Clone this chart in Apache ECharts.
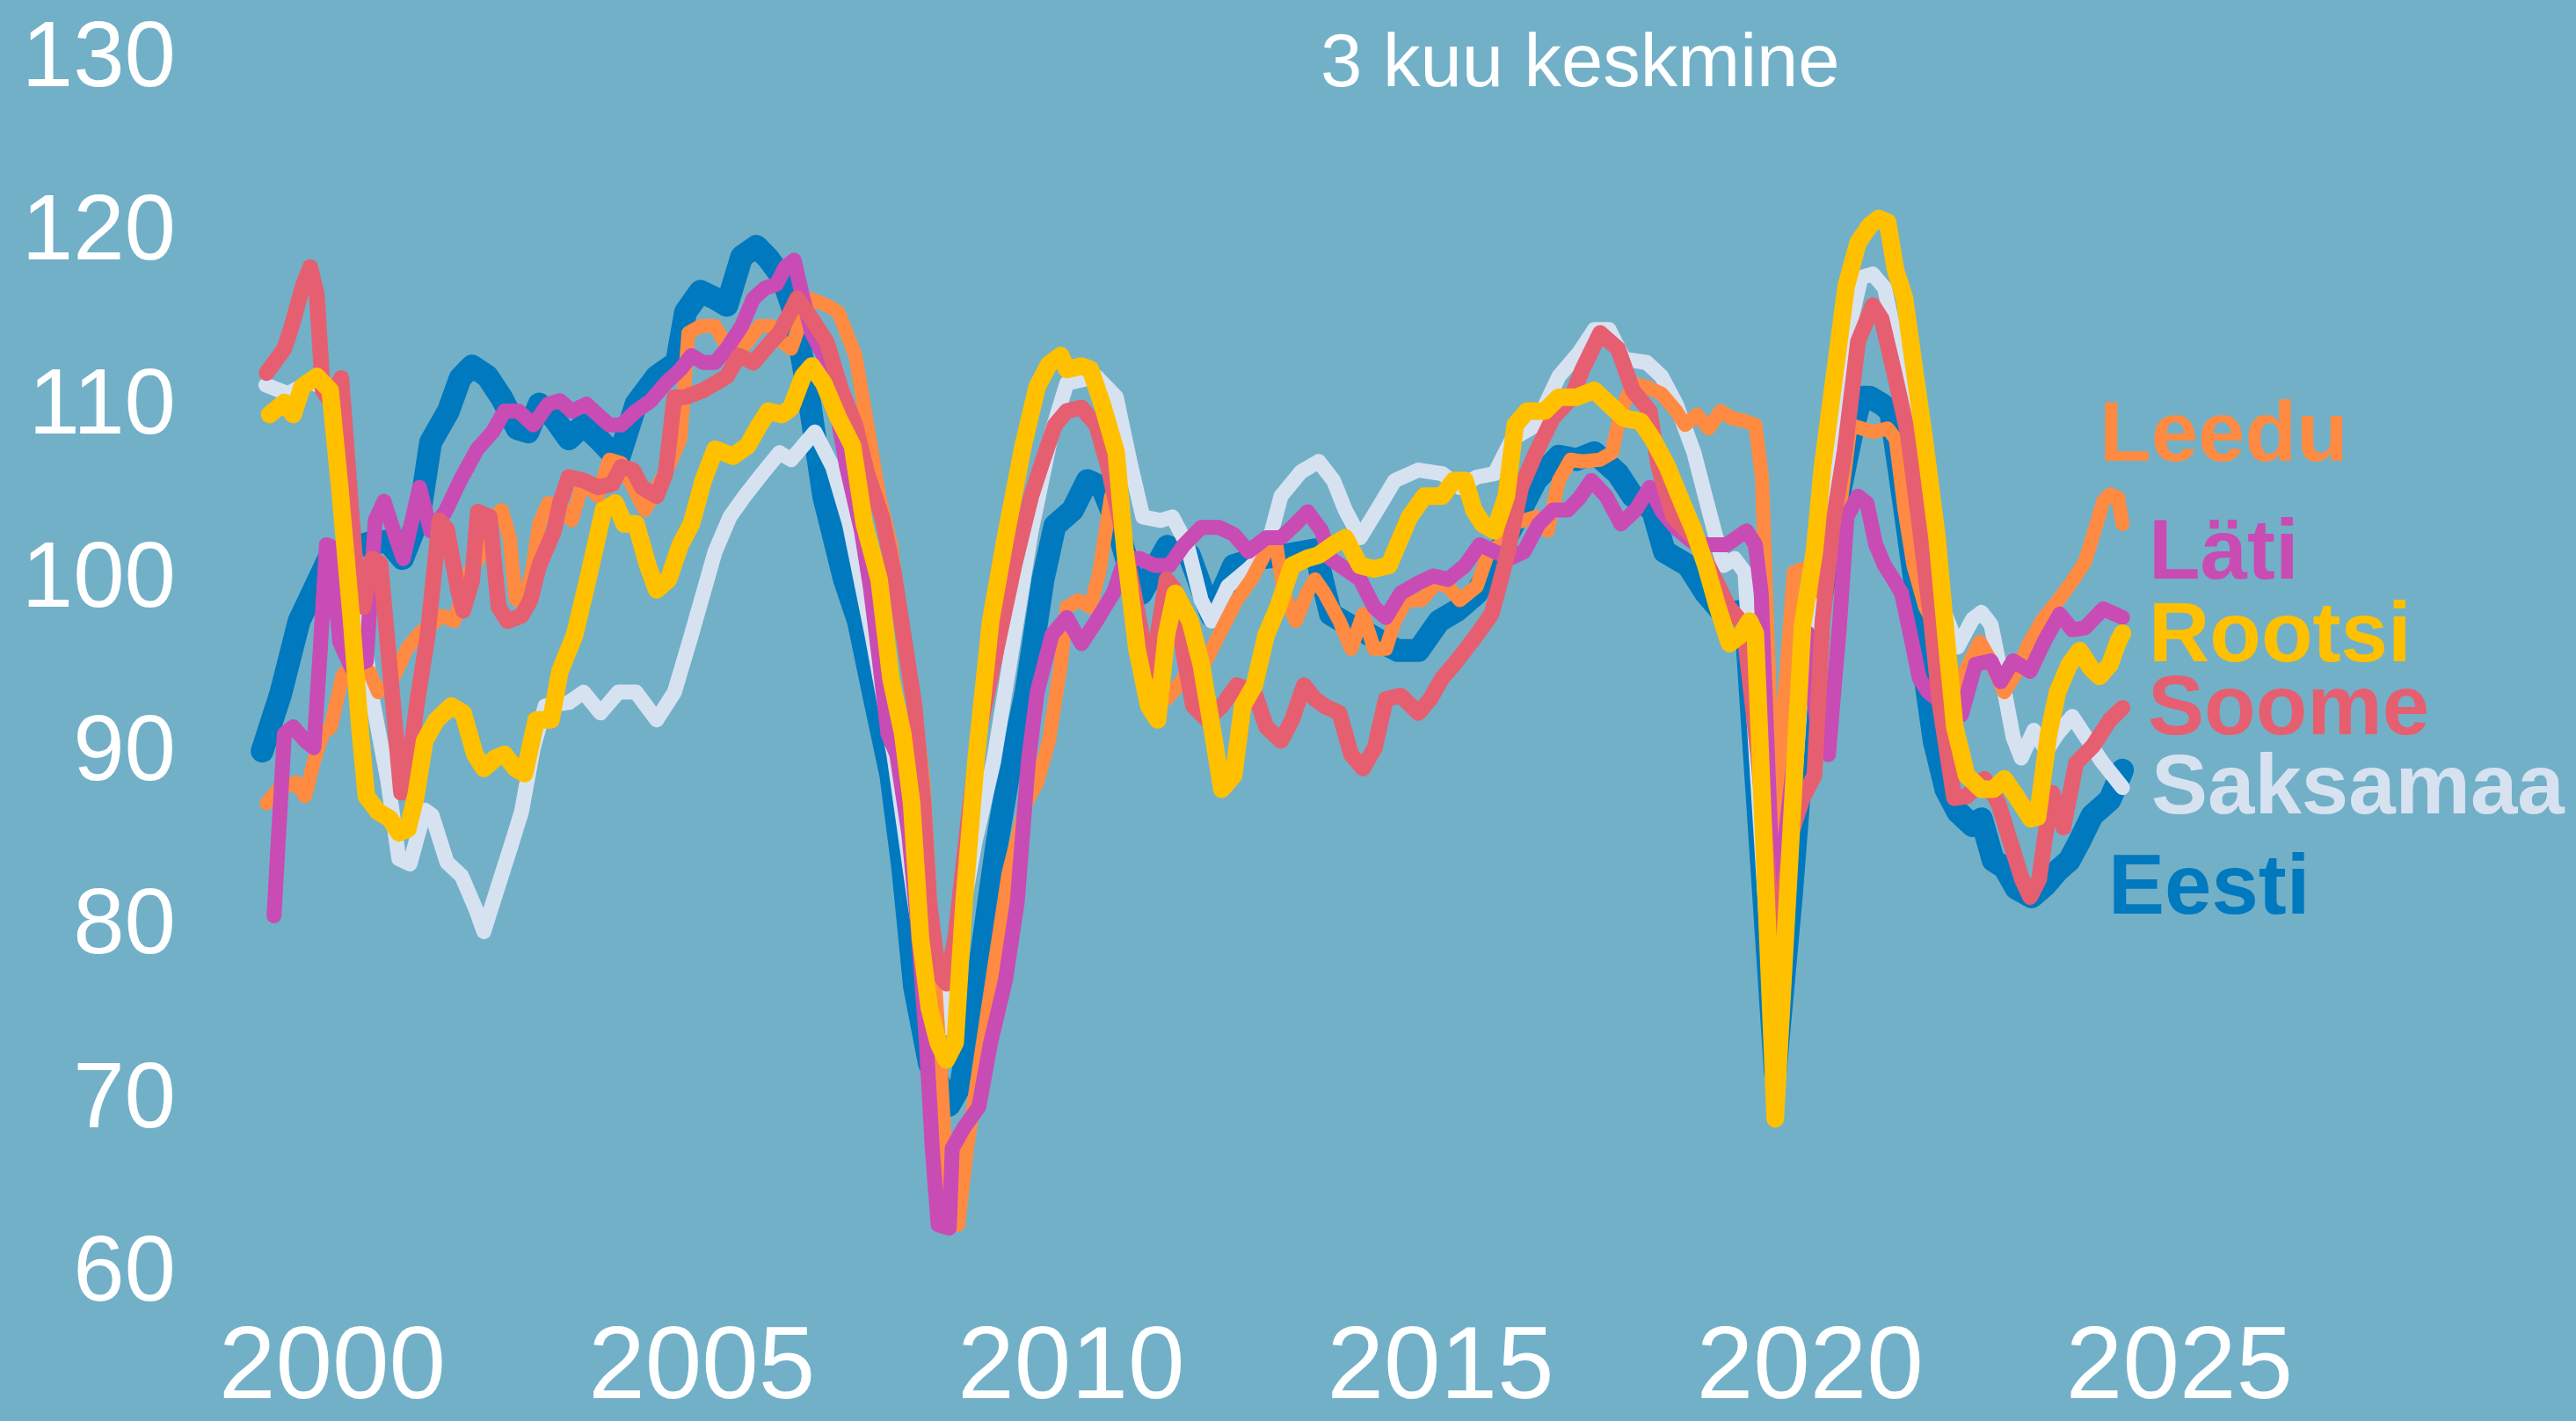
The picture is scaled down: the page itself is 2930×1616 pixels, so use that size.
<!DOCTYPE html>
<html>
<head>
<meta charset="utf-8">
<title>3 kuu keskmine</title>
<script src="https://cdn.jsdelivr.net/npm/echarts@6/dist/echarts.min.js"></script>
<style>
    html, body { margin: 0; padding: 0; background: #72b0c8; }
    #chart { width: 2930px; height: 1616px; }
</style>
</head>
<body>
<div id="chart"></div>
<script>
    // x = aasta (nagu teljel), y = indeks
    const yearTicks = [2000, 2005, 2010, 2015, 2020, 2025];

    const eesti = [
        [1999.05, 90.2], [1999.3, 93.5], [1999.55, 97.7], [1999.75, 99.5], [1999.95, 101.3], [2000.2, 101.8],
        [2000.5, 102.2], [2000.75, 102.3], [2000.95, 101.3], [2001.18, 103.8], [2001.33, 108.0], [2001.57, 109.8],
        [2001.73, 111.7], [2001.89, 112.4], [2002.1, 111.8], [2002.3, 110.5], [2002.5, 108.8], [2002.65, 108.6],
        [2002.8, 110.2], [2003.0, 109.4], [2003.2, 108.2], [2003.4, 109.0], [2003.6, 108.2], [2003.87, 107.0],
        [2004.11, 110.2], [2004.39, 111.8], [2004.66, 112.6], [2004.78, 115.5], [2004.98, 116.7], [2005.18, 116.3],
        [2005.34, 115.9], [2005.54, 118.7], [2005.74, 119.3], [2005.9, 118.6], [2006.09, 117.5], [2006.25, 115.5],
        [2006.45, 110.6], [2006.65, 104.9], [2006.93, 100.1], [2007.12, 97.7], [2007.32, 93.6], [2007.56, 88.8],
        [2007.72, 83.5], [2007.88, 76.6], [2008.08, 72.2], [2008.35, 69.8], [2008.51, 71.0], [2008.75, 77.4],
        [2008.99, 84.7], [2009.15, 88.8], [2009.39, 93.6], [2009.62, 100.1], [2009.78, 103.2], [2010.02, 104.1],
        [2010.22, 105.8], [2010.42, 105.4], [2010.6, 103.5], [2010.8, 100.5], [2010.95, 99.3], [2011.3, 102.0],
        [2011.6, 101.5], [2011.9, 98.0], [2012.2, 100.9], [2012.5, 101.3], [2012.9, 101.5], [2013.3, 101.8],
        [2013.51, 98.1], [2013.75, 97.5], [2014.0, 97.0], [2014.2, 96.5], [2014.42, 96.0], [2014.7, 96.0],
        [2014.98, 97.7], [2015.22, 98.3], [2015.49, 99.3], [2015.89, 102.5], [2016.29, 105.8], [2016.6, 107.2],
        [2016.84, 107.0], [2017.08, 107.4], [2017.4, 106.2], [2017.6, 104.9], [2017.87, 104.1], [2018.03, 101.7],
        [2018.35, 100.9], [2018.59, 99.3], [2018.83, 98.1], [2019.12, 98.3], [2019.53, 71.7], [2019.75, 82.0],
        [2019.95, 93.0], [2020.1, 97.7], [2020.35, 104.0], [2020.57, 108.6], [2020.69, 110.6], [2020.81, 110.6],
        [2020.97, 110.2], [2021.09, 109.8], [2021.2, 106.6], [2021.32, 103.0], [2021.44, 99.3], [2021.56, 94.4],
        [2021.68, 90.8], [2021.84, 88.0], [2022.0, 86.7], [2022.2, 85.9], [2022.32, 86.3], [2022.48, 83.9],
        [2022.63, 83.5], [2022.79, 82.3], [2023.0, 81.8], [2023.19, 82.5], [2023.35, 83.3], [2023.51, 83.9],
        [2023.66, 85.1], [2023.82, 86.5], [2024.06, 87.4], [2024.23, 89.1]
    ];

    const saksamaa = [
        [1999.1, 111.3], [1999.4, 110.8], [1999.7, 111.5], [1999.95, 111.0], [2000.15, 106.0], [2000.35, 99.0],
        [2000.55, 93.0], [2000.75, 88.5], [2000.9, 84.0], [2001.05, 83.7], [2001.25, 86.8], [2001.35, 86.5],
        [2001.55, 83.8], [2001.75, 83.0], [2001.95, 81.0], [2002.05, 79.8], [2002.25, 82.5], [2002.4, 84.5],
        [2002.56, 86.7], [2002.72, 90.4], [2002.88, 92.8], [2003.2, 93.0], [2003.4, 93.6], [2003.63, 92.4],
        [2003.87, 93.6], [2004.11, 93.6], [2004.39, 92.0], [2004.63, 93.6], [2004.86, 96.9], [2005.18, 101.7],
        [2005.38, 103.7], [2005.58, 104.9], [2005.82, 106.2], [2006.05, 107.4], [2006.21, 107.0], [2006.53, 108.6],
        [2006.77, 106.6], [2007.0, 103.3], [2007.3, 97.0], [2007.6, 90.0], [2007.9, 81.0], [2008.1, 76.0],
        [2008.26, 74.2], [2008.45, 79.0], [2008.7, 85.0], [2008.95, 89.6], [2009.23, 96.9], [2009.46, 102.9],
        [2009.74, 108.6], [2009.94, 111.4], [2010.34, 111.8], [2010.61, 110.6], [2010.81, 106.6], [2010.97, 103.7],
        [2011.21, 103.5], [2011.37, 103.7], [2011.57, 102.1], [2011.76, 98.9], [2011.9, 97.7], [2012.12, 99.7],
        [2012.4, 100.7], [2012.64, 101.7], [2012.84, 104.9], [2013.11, 106.3], [2013.35, 106.9], [2013.55, 105.8],
        [2013.71, 104.1], [2013.91, 102.5], [2014.14, 104.1], [2014.38, 105.8], [2014.7, 106.4], [2015.02, 106.2],
        [2015.26, 105.4], [2015.49, 106.0], [2015.73, 106.2], [2015.97, 108.2], [2016.29, 109.0], [2016.6, 111.8],
        [2016.88, 113.2], [2017.08, 114.5], [2017.28, 114.5], [2017.48, 112.8], [2017.79, 112.6], [2017.99, 111.8],
        [2018.19, 110.2], [2018.43, 107.4], [2018.63, 104.1], [2018.83, 100.9], [2018.98, 101.3], [2019.12, 100.5],
        [2019.53, 72.0], [2019.9, 95.0], [2020.1, 98.0], [2020.3, 106.0], [2020.5, 114.0], [2020.69, 117.5],
        [2020.85, 117.7], [2021.01, 116.9], [2021.2, 113.0], [2021.36, 109.8], [2021.55, 104.0], [2021.75, 99.0],
        [2022.0, 96.2], [2022.2, 97.8], [2022.32, 98.2], [2022.45, 97.5], [2022.59, 94.6], [2022.75, 91.0],
        [2022.86, 89.8], [2023.03, 91.4], [2023.2, 90.2], [2023.35, 91.2], [2023.55, 92.2], [2023.72, 91.1],
        [2023.95, 89.6], [2024.23, 88.1]
    ];

    const soome = [
        [1999.11, 112.0], [1999.35, 113.4], [1999.45, 114.7], [1999.6, 117.0], [1999.7, 118.1], [1999.79, 116.5],
        [1999.87, 111.0], [1999.95, 110.5], [2000.12, 111.7], [2000.3, 101.6], [2000.42, 98.5], [2000.54, 101.3],
        [2000.65, 101.0], [2000.82, 93.0], [2000.93, 87.8], [2001.0, 88.0], [2001.14, 92.8], [2001.29, 96.9],
        [2001.45, 103.5], [2001.55, 103.0], [2001.7, 99.5], [2001.77, 98.3], [2001.89, 100.0], [2001.97, 104.0],
        [2002.13, 103.7], [2002.25, 98.5], [2002.37, 97.7], [2002.56, 98.0], [2002.68, 98.9], [2002.8, 100.9],
        [2003.0, 102.9], [2003.08, 104.5], [2003.2, 106.0], [2003.4, 105.8], [2003.6, 105.4], [2003.79, 105.6],
        [2003.91, 106.6], [2004.07, 106.4], [2004.19, 105.4], [2004.39, 104.9], [2004.51, 106.2], [2004.63, 110.6],
        [2004.78, 110.6], [2005.02, 111.0], [2005.18, 111.4], [2005.34, 111.8], [2005.5, 113.0], [2005.7, 112.6],
        [2005.9, 113.6], [2006.05, 114.3], [2006.2, 115.5], [2006.29, 116.3], [2006.49, 115.1], [2006.69, 113.8],
        [2006.89, 111.0], [2007.08, 109.0], [2007.24, 106.2], [2007.44, 103.7], [2007.6, 100.5], [2007.76, 96.1],
        [2007.88, 92.8], [2008.0, 87.2], [2008.08, 81.5], [2008.2, 77.4], [2008.31, 76.8], [2008.43, 79.4],
        [2008.59, 85.5], [2008.75, 91.2], [2008.99, 96.1], [2009.23, 100.9], [2009.46, 104.9], [2009.62, 107.0],
        [2009.78, 109.0], [2009.94, 109.8], [2010.14, 110.0], [2010.34, 109.0], [2010.5, 106.6], [2010.65, 103.7],
        [2010.85, 99.3], [2011.05, 94.8], [2011.17, 96.9], [2011.29, 100.1], [2011.4, 99.5], [2011.53, 95.6],
        [2011.65, 92.8], [2011.84, 92.0], [2012.04, 92.8], [2012.24, 94.0], [2012.48, 93.6], [2012.64, 91.6],
        [2012.84, 90.8], [2012.99, 92.0], [2013.15, 94.0], [2013.3, 93.2], [2013.43, 92.8], [2013.63, 92.4],
        [2013.79, 90.0], [2013.95, 89.2], [2014.11, 90.4], [2014.26, 93.2], [2014.46, 93.4], [2014.7, 92.4],
        [2014.86, 93.2], [2015.02, 94.4], [2015.22, 95.4], [2015.49, 96.9], [2015.69, 98.1], [2015.89, 101.3],
        [2016.09, 105.4], [2016.29, 107.4], [2016.52, 109.4], [2016.76, 110.5], [2016.92, 112.2], [2017.16, 114.3],
        [2017.4, 113.4], [2017.6, 111.0], [2017.83, 109.8], [2017.95, 106.6], [2018.15, 103.7], [2018.43, 102.5],
        [2018.67, 100.5], [2018.9, 98.5], [2019.1, 97.5], [2019.3, 90.0], [2019.53, 78.0], [2019.75, 85.5],
        [2019.9, 87.5], [2020.06, 88.8], [2020.17, 97.7], [2020.3, 103.0], [2020.47, 107.5], [2020.65, 113.8],
        [2020.85, 115.9], [2020.97, 115.1], [2021.13, 112.2], [2021.32, 108.6], [2021.48, 103.3], [2021.64, 97.7],
        [2021.76, 92.8], [2021.95, 87.5], [2022.12, 87.6], [2022.36, 88.6], [2022.55, 87.2], [2022.71, 85.0],
        [2022.87, 82.8], [2022.98, 81.8], [2023.1, 82.8], [2023.19, 85.5], [2023.28, 87.8], [2023.43, 85.8],
        [2023.6, 89.5], [2023.83, 90.5], [2024.06, 92.0], [2024.23, 92.7]
    ];

    const rootsi = [
        [1999.15, 109.6], [1999.35, 110.3], [1999.47, 109.6], [1999.59, 111.2], [1999.79, 111.8], [1999.97, 111.0],
        [2000.1, 105.4], [2000.26, 97.7], [2000.38, 91.2], [2000.46, 87.6], [2000.62, 86.7], [2000.78, 86.3],
        [2000.9, 85.5], [2001.02, 85.7], [2001.13, 87.6], [2001.25, 90.8], [2001.41, 92.0], [2001.61, 92.8],
        [2001.77, 92.4], [2001.93, 90.0], [2002.05, 89.2], [2002.21, 89.8], [2002.33, 90.0], [2002.48, 89.2],
        [2002.6, 88.9], [2002.76, 92.0], [2002.96, 92.0], [2003.08, 94.8], [2003.28, 96.9], [2003.48, 100.5],
        [2003.67, 104.1], [2003.83, 104.5], [2003.95, 103.3], [2004.11, 103.3], [2004.27, 100.9], [2004.39, 99.5],
        [2004.55, 100.1], [2004.71, 102.1], [2004.86, 103.3], [2005.02, 105.8], [2005.18, 107.6], [2005.42, 107.2],
        [2005.62, 107.8], [2005.78, 109.0], [2005.9, 109.8], [2006.09, 109.6], [2006.21, 110.0], [2006.37, 111.8],
        [2006.49, 112.4], [2006.65, 111.4], [2006.85, 109.4], [2007.04, 107.8], [2007.2, 103.3], [2007.4, 100.1],
        [2007.56, 94.4], [2007.72, 91.2], [2007.84, 87.2], [2007.96, 79.4], [2008.08, 75.4], [2008.2, 73.4],
        [2008.31, 72.4], [2008.43, 73.4], [2008.55, 81.5], [2008.71, 89.6], [2008.91, 97.7], [2009.11, 102.5],
        [2009.35, 107.8], [2009.54, 111.2], [2009.7, 112.5], [2009.86, 113.0], [2009.94, 112.2], [2010.14, 112.4],
        [2010.26, 112.2], [2010.42, 110.2], [2010.61, 107.4], [2010.73, 101.7], [2010.89, 96.1], [2011.05, 92.8],
        [2011.17, 92.0], [2011.29, 96.9], [2011.41, 99.3], [2011.61, 97.7], [2011.76, 95.2], [2011.92, 91.2],
        [2012.04, 88.0], [2012.2, 88.8], [2012.32, 92.8], [2012.48, 94.0], [2012.64, 96.9], [2012.8, 98.5],
        [2012.99, 100.9], [2013.19, 101.3], [2013.35, 101.5], [2013.55, 102.1], [2013.71, 102.5], [2013.91, 100.9],
        [2014.1, 100.7], [2014.3, 100.9], [2014.42, 102.1], [2014.58, 103.7], [2014.78, 104.9], [2015.02, 104.9],
        [2015.18, 105.8], [2015.33, 105.8], [2015.45, 104.1], [2015.57, 103.3], [2015.73, 102.9], [2015.89, 104.9],
        [2016.01, 109.0], [2016.17, 109.8], [2016.41, 109.8], [2016.6, 110.6], [2016.84, 110.6], [2017.08, 111.0],
        [2017.28, 110.2], [2017.48, 109.4], [2017.71, 109.2], [2017.87, 108.2], [2018.07, 106.6], [2018.27, 104.5],
        [2018.43, 102.9], [2018.59, 100.9], [2018.75, 98.5], [2018.91, 96.4], [2019.06, 96.9], [2019.18, 97.7],
        [2019.26, 97.0], [2019.53, 69.0], [2019.9, 97.5], [2020.06, 101.7], [2020.17, 106.6], [2020.33, 111.8],
        [2020.49, 117.0], [2020.65, 119.5], [2020.81, 120.5], [2020.93, 120.9], [2021.05, 120.7], [2021.16, 117.9],
        [2021.28, 116.3], [2021.4, 112.6], [2021.56, 107.8], [2021.72, 102.5], [2021.84, 96.9], [2021.96, 91.6],
        [2022.12, 88.8], [2022.32, 88.0], [2022.48, 88.0], [2022.63, 88.6], [2022.79, 87.6], [2022.99, 86.3],
        [2023.08, 86.4], [2023.23, 91.2], [2023.35, 93.6], [2023.51, 95.2], [2023.65, 96.0], [2023.8, 95.0],
        [2023.92, 94.5], [2024.06, 95.2], [2024.17, 96.5], [2024.23, 97.0]
    ];

    const lati = [
        [1999.21, 80.7], [1999.35, 91.2], [1999.47, 91.6], [1999.63, 90.8], [1999.75, 90.4], [1999.83, 95.6],
        [1999.92, 102.1], [1999.98, 102.0], [2000.1, 96.5], [2000.26, 95.0], [2000.46, 95.4], [2000.58, 103.5],
        [2000.7, 104.6], [2000.86, 102.5], [2000.96, 101.3], [2001.18, 105.4], [2001.33, 102.9], [2001.53, 104.0],
        [2001.73, 105.8], [2001.96, 107.6], [2002.17, 108.6], [2002.33, 109.8], [2002.52, 109.8], [2002.72, 109.0],
        [2002.92, 110.2], [2003.08, 110.4], [2003.24, 109.8], [2003.44, 110.2], [2003.59, 109.6], [2003.75, 109.0],
        [2003.91, 109.0], [2004.11, 109.8], [2004.31, 110.4], [2004.51, 111.4], [2004.71, 112.2], [2004.86, 113.0],
        [2005.02, 112.6], [2005.18, 112.6], [2005.34, 113.4], [2005.54, 114.7], [2005.7, 116.3], [2005.86, 116.9],
        [2006.01, 117.1], [2006.13, 118.1], [2006.25, 118.5], [2006.37, 116.3], [2006.49, 114.3], [2006.65, 113.0],
        [2006.81, 110.2], [2006.96, 106.6], [2007.16, 102.9], [2007.28, 99.7], [2007.4, 95.6], [2007.52, 91.2],
        [2007.64, 90.0], [2007.8, 85.5], [2007.92, 80.3], [2008.04, 73.4], [2008.12, 67.3], [2008.2, 62.9],
        [2008.35, 62.7], [2008.39, 67.3], [2008.55, 68.5], [2008.75, 69.7], [2008.91, 73.4], [2009.11, 77.0],
        [2009.27, 81.5], [2009.42, 89.6], [2009.54, 93.6], [2009.74, 96.9], [2009.94, 97.9], [2010.14, 96.4],
        [2010.34, 97.7], [2010.57, 99.3], [2010.73, 101.3], [2010.93, 101.3], [2011.13, 100.9], [2011.33, 100.9],
        [2011.53, 102.1], [2011.76, 103.1], [2012.0, 103.1], [2012.2, 102.7], [2012.4, 101.7], [2012.64, 102.5],
        [2012.84, 102.5], [2013.04, 103.3], [2013.2, 104.0], [2013.39, 102.9], [2013.51, 101.3], [2013.71, 100.7],
        [2013.91, 100.1], [2014.1, 98.5], [2014.26, 97.9], [2014.46, 99.3], [2014.7, 99.9], [2014.9, 100.3],
        [2015.1, 100.1], [2015.33, 100.9], [2015.53, 102.1], [2015.73, 101.7], [2015.93, 101.3], [2016.13, 101.7],
        [2016.33, 103.3], [2016.52, 104.1], [2016.72, 104.1], [2016.88, 104.8], [2017.04, 105.8], [2017.24, 104.9],
        [2017.44, 103.3], [2017.64, 104.1], [2017.83, 105.4], [2018.0, 104.0], [2018.2, 103.0], [2018.4, 102.3],
        [2018.59, 102.1], [2018.87, 102.1], [2019.14, 102.9], [2019.26, 102.1], [2019.34, 99.3], [2019.52, 79.5],
        [2019.97, 97.0], [2020.13, 90.3], [2020.25, 90.0], [2020.4, 97.5], [2020.5, 103.7], [2020.65, 104.9],
        [2020.77, 104.5], [2020.89, 102.1], [2021.01, 100.9], [2021.13, 100.1], [2021.24, 99.3], [2021.36, 96.9],
        [2021.48, 94.4], [2021.6, 93.6], [2021.84, 92.8], [2022.05, 92.3], [2022.24, 95.2], [2022.45, 95.4],
        [2022.58, 94.2], [2022.75, 95.4], [2022.98, 94.8], [2023.18, 96.6], [2023.38, 98.1], [2023.55, 97.2],
        [2023.72, 97.3], [2023.97, 98.4], [2024.23, 97.9]
    ];

    const leedu = [
        [1999.11, 87.2], [1999.27, 88.0], [1999.51, 88.4], [1999.63, 87.6], [1999.75, 89.6], [1999.87, 91.2],
        [1999.98, 91.6], [2000.14, 94.6], [2000.3, 95.2], [2000.5, 94.8], [2000.62, 93.6], [2000.78, 94.0],
        [2001.01, 96.1], [2001.18, 97.0], [2001.49, 98.0], [2001.65, 97.7], [2001.85, 100.5], [2002.01, 101.5],
        [2002.15, 103.5], [2002.29, 104.1], [2002.4, 102.5], [2002.48, 99.0], [2002.58, 98.7], [2002.7, 100.5],
        [2002.8, 103.3], [2002.92, 104.5], [2003.12, 104.1], [2003.24, 103.5], [2003.4, 105.8], [2003.59, 104.9],
        [2003.75, 107.0], [2003.91, 106.8], [2004.07, 105.4], [2004.23, 104.1], [2004.39, 105.4], [2004.55, 106.6],
        [2004.71, 108.2], [2004.82, 114.3], [2004.98, 114.7], [2005.18, 114.7], [2005.3, 113.8], [2005.46, 113.0],
        [2005.62, 113.8], [2005.78, 114.7], [2005.94, 114.7], [2006.09, 113.8], [2006.21, 113.4], [2006.45, 116.3],
        [2006.69, 115.9], [2006.85, 115.5], [2006.96, 114.3], [2007.08, 113.0], [2007.24, 109.0], [2007.4, 104.9],
        [2007.56, 102.1], [2007.72, 96.9], [2007.88, 92.8], [2008.0, 88.4], [2008.12, 79.4], [2008.24, 71.4],
        [2008.35, 62.9], [2008.47, 62.9], [2008.59, 67.3], [2008.75, 71.8], [2008.95, 77.5], [2009.15, 83.1],
        [2009.39, 87.2], [2009.54, 88.4], [2009.7, 90.8], [2009.86, 95.2], [2009.94, 98.5], [2010.1, 98.9],
        [2010.26, 98.5], [2010.38, 100.5], [2010.54, 104.9], [2010.68, 104.3], [2010.85, 96.9], [2011.05, 94.4],
        [2011.29, 93.2], [2011.45, 94.0], [2011.65, 95.2], [2011.8, 95.2], [2012.0, 96.9], [2012.24, 98.9],
        [2012.44, 100.1], [2012.64, 101.7], [2012.76, 102.5], [2012.88, 99.3], [2013.04, 97.7], [2013.19, 99.3],
        [2013.3, 100.1], [2013.43, 99.3], [2013.63, 97.7], [2013.79, 96.1], [2013.95, 98.1], [2014.1, 96.1],
        [2014.26, 96.1], [2014.38, 97.7], [2014.54, 98.9], [2014.74, 98.9], [2014.94, 99.9], [2015.1, 99.7],
        [2015.26, 98.9], [2015.49, 99.7], [2015.65, 101.7], [2015.81, 102.1], [2015.97, 103.3], [2016.29, 103.7],
        [2016.45, 102.9], [2016.6, 105.8], [2016.76, 107.0], [2016.92, 106.9], [2017.16, 107.0], [2017.32, 107.4],
        [2017.44, 109.8], [2017.6, 111.4], [2017.79, 111.2], [2017.99, 110.8], [2018.19, 109.8], [2018.31, 109.0],
        [2018.47, 109.6], [2018.63, 108.8], [2018.79, 109.8], [2018.94, 109.4], [2019.14, 109.2], [2019.26, 109.0],
        [2019.35, 106.0], [2019.52, 85.5], [2019.78, 100.5], [2019.9, 100.7], [2020.05, 99.5], [2020.17, 99.3],
        [2020.4, 104.0], [2020.55, 109.0], [2020.85, 108.6], [2021.05, 108.8], [2021.16, 108.2], [2021.28, 104.1],
        [2021.4, 100.9], [2021.56, 98.5], [2021.76, 96.9], [2021.96, 93.4], [2022.12, 95.0], [2022.3, 96.5],
        [2022.42, 95.6], [2022.63, 93.6], [2022.8, 94.8], [2022.95, 96.3], [2023.15, 97.8], [2023.38, 99.0],
        [2023.55, 100.0], [2023.72, 101.1], [2023.83, 102.6], [2023.97, 104.6], [2024.06, 105.0], [2024.17, 104.8],
        [2024.23, 103.3]
    ];

    const fontFamily = "'Liberation Sans', Arial, sans-serif";

    // joonistamise järjekord: Eesti all, Rootsi kõige peal
    const lines = [
        { name: 'Eesti', data: eesti, color: '#0079bf', width: 26 },
        { name: 'Saksamaa', data: saksamaa, color: '#d7e2f1', width: 17 },
        { name: 'Leedu', data: leedu, color: '#ff8b42', width: 16 },
        { name: 'Läti', data: lati, color: '#c94bb4', width: 17 },
        { name: 'Soome', data: soome, color: '#e65f70', width: 18 },
        { name: 'Rootsi', data: rootsi, color: '#ffc000', width: 20 }
    ];

    // nimed paremal servas
    const endLabels = [
        { text: 'Leedu', color: '#ff8b42', x: 2388, y: 498 },
        { text: 'Läti', color: '#c94bb4', x: 2444, y: 632 },
        { text: 'Rootsi', color: '#ffc000', x: 2444, y: 726 },
        { text: 'Soome', color: '#e65f70', x: 2443, y: 809 },
        { text: 'Saksamaa', color: '#d7e2f1', x: 2447, y: 899 },
        { text: 'Eesti', color: '#0079bf', x: 2398, y: 1013 }
    ];

    let chart = echarts.init(document.getElementById('chart'));

    let series = [];
    for (let v of lines) {
        series.push({
            name: v.name,
            type: 'line',
            data: v.data,
            showSymbol: false,
            symbol: 'none',
            smooth: false,
            silent: true,
            lineStyle: {
                color: v.color,
                width: v.width,
                cap: 'round',
                join: 'round'
            }
        });
    }

    let graphics = [{
        type: 'text',
        left: 1502,
        top: 32,
        style: {
            text: '3 kuu keskmine',
            fill: '#ffffff',
            font: 'normal 85px ' + fontFamily
        }
    }];
    for (let l of endLabels) {
        graphics.push({
            type: 'text',
            x: l.x,
            y: l.y,
            style: {
                text: l.text,
                fill: l.color,
                font: 'bold 96px ' + fontFamily,
                textAlign: 'left',
                textVerticalAlign: 'middle'
            }
        });
    }

    let option = {
        backgroundColor: '#72b0c8',
        animation: false,
        grid: {
            left: 294,
            right: 199,
            top: 69,
            bottom: 153
        },
        xAxis: {
            type: 'value',
            min: 1999,
            max: 2028,
            axisLine: { show: false },
            axisTick: { show: false },
            splitLine: { show: false },
            axisLabel: {
                customValues: yearTicks,
                color: '#ffffff',
                fontSize: 116,
                fontFamily: fontFamily,
                margin: 50,
                formatter: function (val) { return String(val); }
            }
        },
        yAxis: {
            type: 'value',
            min: 60,
            max: 130,
            interval: 10,
            axisLine: { show: false },
            axisTick: { show: false },
            splitLine: { show: false },
            axisLabel: {
                color: '#ffffff',
                fontSize: 105,
                fontFamily: fontFamily,
                margin: 94
            }
        },
        graphic: graphics,
        series: series
    };

    chart.setOption(option, true);
    window.addEventListener('resize', function () {
        chart.resize();
    });
</script>
</body>
</html>
